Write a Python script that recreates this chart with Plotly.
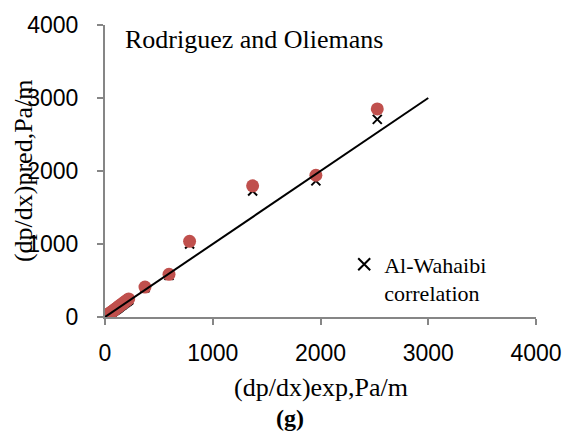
import plotly.graph_objects as go

# Experimental pressure gradient (Pa/m)
x_exp = [8, 15, 22, 30, 38, 45, 52, 60, 68, 76, 85, 95, 105, 115, 125, 135, 148,
         160, 175, 190, 205, 220, 371, 594, 785, 1370, 1957, 2527]
# Rodriguez and Oliemans predictions
y_ro = [9, 17, 25, 34, 43, 50, 58, 68, 77, 85, 96, 107, 118, 130, 141, 152, 168,
        181, 197, 214, 231, 248, 410, 585, 1036, 1797, 1942, 2851]
# Al-Wahaibi correlation predictions
y_aw = [8, 16, 23, 32, 40, 47, 55, 63, 71, 80, 90, 100, 110, 121, 131, 142, 156,
        168, 184, 200, 215, 232, 400, 570, 1000, 1726, 1865, 2707]
# Parity line
x_line = [0, 3000]
y_line = [0, 3000]

fig = go.Figure()
fig.add_trace(go.Scatter(x=x_exp, y=y_aw, mode="markers", name="Al-Wahaibi<br>correlation",
                         marker=dict(symbol="x-thin", size=9, line=dict(color="black", width=2), color="black")))
fig.add_trace(go.Scatter(x=x_exp, y=y_ro, mode="markers", name="Rodriguez and Oliemans",
                         showlegend=False,
                         marker=dict(symbol="circle", size=13, color="#C0504D")))
fig.add_trace(go.Scatter(x=x_line, y=y_line, mode="lines", showlegend=False,
                         line=dict(color="black", width=2)))

axis_common = dict(range=[0, 4000], dtick=1000, showgrid=False, zeroline=False,
                   showline=True, linecolor="#868686", linewidth=2,
                   ticks="outside", ticklen=6, tickcolor="#868686", tickwidth=2,
                   tickfont=dict(family="Liberation Sans", size=23, color="black"))

fig.update_layout(
    width=574, height=432,
    margin=dict(l=105, r=31, t=21, b=115),
    paper_bgcolor="white", plot_bgcolor="white",
    xaxis=dict(**axis_common, ticklabelstandoff=8),
    yaxis=dict(**axis_common, ticklabelstandoff=14),
    showlegend=True,
    legend=dict(x=0.555, y=0.252, xanchor="left", yanchor="top", valign="top",
                bgcolor="rgba(0,0,0,0)",
                font=dict(family="Liberation Serif", size=22, color="black"),
                itemsizing="constant", tracegroupgap=0),
    annotations=[
        dict(text="Rodriguez and Oliemans", x=0.041, y=0.949, xref="paper", yref="paper",
             xanchor="left", yanchor="middle", showarrow=False,
             font=dict(family="Liberation Serif", size=26, color="black")),
        dict(text="(dp/dx)exp,Pa/m", x=0.5, y=-0.243, xref="paper", yref="paper",
             xanchor="center", yanchor="middle", showarrow=False,
             font=dict(family="Liberation Serif", size=26, color="black")),
        dict(text="<b>(g)</b>", x=0.43, y=-0.345, xref="paper", yref="paper",
             xanchor="center", yanchor="middle", showarrow=False,
             font=dict(family="Liberation Serif", size=24, color="black")),
        dict(text="(dp/dx)pred,Pa/m", x=-0.19, y=0.5, xref="paper", yref="paper",
             xanchor="center", yanchor="middle", showarrow=False, textangle=-90,
             font=dict(family="Liberation Serif", size=26, color="black")),
    ],
)

fig.write_html("out.html")
